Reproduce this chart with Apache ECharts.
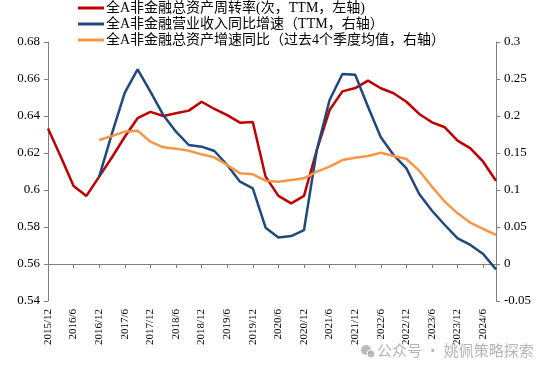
<!DOCTYPE html>
<html><head><meta charset="utf-8">
<script src="https://cdn.jsdelivr.net/npm/echarts@6/dist/echarts.min.js"></script>
<style>html,body{margin:0;padding:0;background:#fff}#c{width:550px;height:373px}</style>
</head><body><div id="c"></div>
<script>
const categories = ['2015/12','2016/3','2016/6','2016/9','2016/12','2017/3','2017/6','2017/9','2017/12','2018/3','2018/6','2018/9','2018/12','2019/3','2019/6','2019/9','2019/12','2020/3','2020/6','2020/9','2020/12','2021/3','2021/6','2021/9','2021/12','2022/3','2022/6','2022/9','2022/12','2023/3','2023/6','2023/9','2023/12','2024/3','2024/6','2024/9'];
const turnover = [0.6333,0.6180,0.6022,0.5968,0.6072,0.6177,0.6288,0.6388,0.6422,0.6400,0.6415,0.6429,0.6477,0.6438,0.6405,0.6364,0.6368,0.6072,0.5968,0.5928,0.5968,0.6216,0.6432,0.6533,0.6551,0.6591,0.6550,0.6523,0.6477,0.6411,0.6366,0.6339,0.6267,0.6225,0.6153,0.6050];
const revenueGrowth = ['-','-','-','-',0.118,0.1766,0.2315,0.2631,0.2329,0.2014,0.1788,0.1608,0.1586,0.1527,0.1338,0.1112,0.1023,0.0491,0.0358,0.0378,0.0459,0.1541,0.2216,0.2568,0.2558,0.2126,0.1712,0.1473,0.1293,0.0946,0.0720,0.0527,0.0347,0.0257,0.0135,-0.0072];
const assetGrowth = ['-','-','-','-',0.1676,0.1730,0.1788,0.1802,0.1653,0.1577,0.1559,0.1531,0.1482,0.1441,0.1338,0.1225,0.1212,0.1126,0.1112,0.1135,0.1158,0.1248,0.1315,0.1405,0.1437,0.1459,0.1504,0.1459,0.1419,0.1261,0.1045,0.0842,0.0685,0.0558,0.0473,0.0392];
const seriesNames = ['全A非金融总资产周转率(次，TTM，左轴)','全A非金融营业收入同比增速（TTM，右轴）','全A非金融总资产增速同比（过去4个季度均值，右轴）'];

const serif = '"Liberation Serif","Times New Roman","Noto Sans CJK SC",serif';
const axisColor = '#7f7f7f';
const chart = echarts.init(document.getElementById('c'));
chart.setOption({
  animation: false,
  backgroundColor: '#fff',
  grid: {left: 48, right: 54, top: 42, bottom: 72, containLabel: false},
  legend: {
    orient: 'vertical', left: 78, top: 0, itemGap: 0, padding: 0,
    itemWidth: 26, itemHeight: 3, icon: 'rect',
    textStyle: {fontFamily: serif, fontSize: 14, lineHeight: 16, color: '#000', padding: [0,0,0,-3]},
    data: seriesNames
  },
  xAxis: {
    type: 'category', data: categories, boundaryGap: false,
    axisLine: {lineStyle: {color: axisColor}},
    axisTick: {interval: 1, length: 4, lineStyle: {color: axisColor}},
    axisLabel: {interval: 1, rotate: 90, margin: 8, fontFamily: serif, fontSize: 11, color: '#000'}
  },
  yAxis: [
    {type: 'value', min: 0.54, max: 0.68, interval: 0.02, position: 'left',
     splitLine: {show: false},
     axisLine: {show: true, lineStyle: {color: axisColor}},
     axisTick: {show: true, length: 4, lineStyle: {color: axisColor}},
     axisLabel: {fontFamily: serif, fontSize: 13, color: '#000', margin: 8}},
    {type: 'value', min: -0.05, max: 0.3, interval: 0.05, position: 'right',
     splitLine: {show: false},
     axisLine: {show: true, lineStyle: {color: axisColor}},
     axisTick: {show: true, length: 4, lineStyle: {color: axisColor}},
     axisLabel: {fontFamily: serif, fontSize: 13, color: '#000', margin: 8}}
  ],
  series: [
    {name: seriesNames[0], type: 'line', yAxisIndex: 0, data: turnover, symbol: 'none', color: '#C00000', lineStyle: {width: 2.5}},
    {name: seriesNames[1], type: 'line', yAxisIndex: 1, data: revenueGrowth, symbol: 'none', color: '#1F497D', lineStyle: {width: 2.5}},
    {name: seriesNames[2], type: 'line', yAxisIndex: 1, data: assetGrowth, symbol: 'none', color: '#F79646', lineStyle: {width: 2.5}}
  ],
  graphic: [
    {type: 'circle', shape: {cx: 366, cy: 350, r: 5}, silent: true, style: {fill: 'rgba(160,160,160,0.7)'}},
    {type: 'circle', shape: {cx: 371, cy: 354, r: 4}, silent: true, style: {fill: 'rgba(160,160,160,0.7)', stroke: '#fff', lineWidth: 1}},
    {type: 'text', left: 377, top: 343, silent: true,
     style: {text: '公众号 · 姚佩策略探索', fill: 'rgba(150,150,150,0.7)', font: '15px "Noto Sans CJK SC", sans-serif'}}
  ]
});
</script></body></html>
